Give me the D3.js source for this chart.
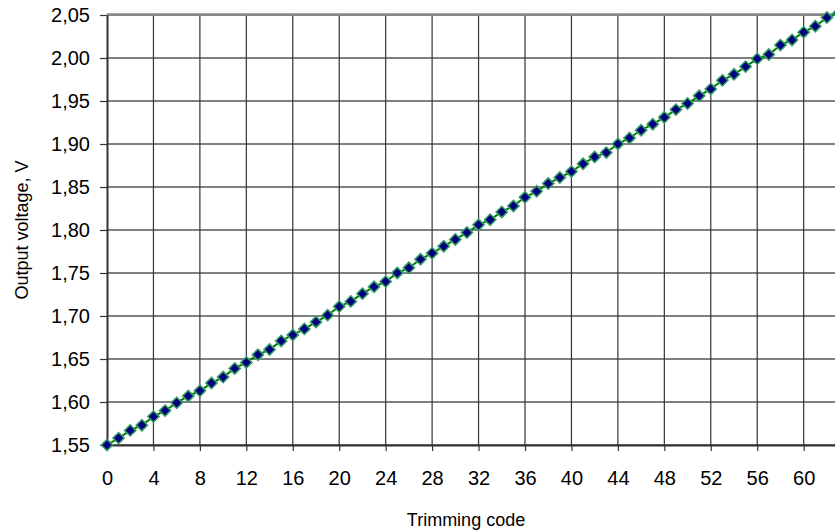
<!DOCTYPE html>
<html>
<head>
<meta charset="utf-8">
<script src="https://cdn.jsdelivr.net/npm/d3@7"></script>
<style>
  body { margin: 0; background: #fff; }
  text { font-family: "Liberation Sans", Arial, sans-serif; fill: #000; }
</style>
</head>
<body>
<div id="vis"></div>
<script>
// trimming code vs output voltage
const codes = d3.range(0, 64);
const voltages = [
  1.550, 1.558, 1.567, 1.573, 1.583, 1.590, 1.599, 1.607, 1.613, 1.622,
  1.629, 1.639, 1.646, 1.655, 1.661, 1.671, 1.678, 1.685, 1.693, 1.701,
  1.711, 1.717, 1.726, 1.734, 1.740, 1.750, 1.756, 1.766, 1.773, 1.781,
  1.789, 1.797, 1.806, 1.812, 1.821, 1.828, 1.838, 1.845, 1.854, 1.861,
  1.868, 1.877, 1.885, 1.890, 1.900, 1.907, 1.916, 1.923, 1.931, 1.940,
  1.947, 1.956, 1.964, 1.974, 1.981, 1.990, 1.999, 2.004, 2.015, 2.021,
  2.030, 2.037, 2.047, 2.052
];
const xTicks = d3.range(0, 61, 4);
const yTicks = d3.range(0, 11).map(i => 1.55 + i * 0.05);

const WIDTH = 835, HEIGHT = 532;
const MARGINS = {left: 107, right: -3.5, top: 15, bottom: 87};

const svg = d3.select("#vis").append("svg")
  .attr("width", WIDTH)
  .attr("height", HEIGHT);

const xScale = d3.scaleLinear()
  .domain([0, 63])
  .range([MARGINS.left, WIDTH - MARGINS.right]);

const yScale = d3.scaleLinear()
  .domain([1.55, 2.05])
  .range([HEIGHT - MARGINS.bottom, MARGINS.top]);

const fmt = d => d3.format(".2f")(d).replace(".", ",");

// grid
svg.append("g").selectAll("line")
  .data(yTicks)
  .enter().append("line")
  .attr("x1", MARGINS.left).attr("x2", WIDTH - MARGINS.right)
  .attr("y1", d => yScale(d)).attr("y2", d => yScale(d))
  .attr("stroke", "#000").attr("stroke-width", 1);

svg.append("g").selectAll("line")
  .data(xTicks.slice(1))
  .enter().append("line")
  .attr("x1", d => xScale(d)).attr("x2", d => xScale(d))
  .attr("y1", MARGINS.top).attr("y2", HEIGHT - MARGINS.bottom)
  .attr("stroke", "#333").attr("stroke-width", 1.2);

// top border
svg.append("line")
  .attr("x1", MARGINS.left).attr("x2", WIDTH)
  .attr("y1", MARGINS.top - 0.5).attr("y2", MARGINS.top - 0.5)
  .attr("stroke", "#888").attr("stroke-width", 2.5);

// axes
const xAxis = d3.axisBottom(xScale).tickValues(xTicks).tickSize(6).tickPadding(20).tickSizeOuter(0);
const yAxis = d3.axisLeft(yScale).tickValues(yTicks).tickFormat(fmt).tickSize(7).tickPadding(10).tickSizeOuter(0);

const gx = svg.append("g")
  .attr("transform", `translate(0, ${HEIGHT - MARGINS.bottom})`)
  .call(xAxis);
const gy = svg.append("g")
  .attr("transform", `translate(${MARGINS.left}, 0)`)
  .call(yAxis);

[gx, gy].forEach(g => {
  g.select(".domain").attr("stroke", "#333").attr("stroke-width", 2);
  g.selectAll(".tick line").attr("stroke", "#333").attr("stroke-width", 1.2);
  g.selectAll(".tick text")
    .style("font-family", '"Liberation Sans", Arial, sans-serif')
    .style("font-size", "20px").attr("fill", "#000");
});

// line + markers
const pts = codes.map((c, i) => ({c: c, v: voltages[i]}));

svg.append("path")
  .datum(pts)
  .attr("fill", "none")
  .attr("stroke", "#008000")
  .attr("stroke-width", 2)
  .attr("d", d3.line().x(d => xScale(d.c)).y(d => yScale(d.v)));

svg.append("g").selectAll("path")
  .data(pts)
  .enter().append("path")
  .attr("d", d3.symbol(d3.symbolSquare, 64))
  .attr("transform", d => `translate(${xScale(d.c)},${yScale(d.v)}) rotate(45)`)
  .attr("fill", "#000080")
  .attr("stroke", "#33a060")
  .attr("stroke-width", 1.5);

// titles
svg.append("text")
  .attr("x", 466).attr("y", 526)
  .attr("text-anchor", "middle")
  .style("font-size", "18px")
  .text("Trimming code");

svg.append("text")
  .attr("transform", `translate(28, ${(MARGINS.top + HEIGHT - MARGINS.bottom) / 2}) rotate(-90)`)
  .attr("text-anchor", "middle")
  .style("font-size", "18px")
  .text("Output voltage, V");
</script>
</body>
</html>
